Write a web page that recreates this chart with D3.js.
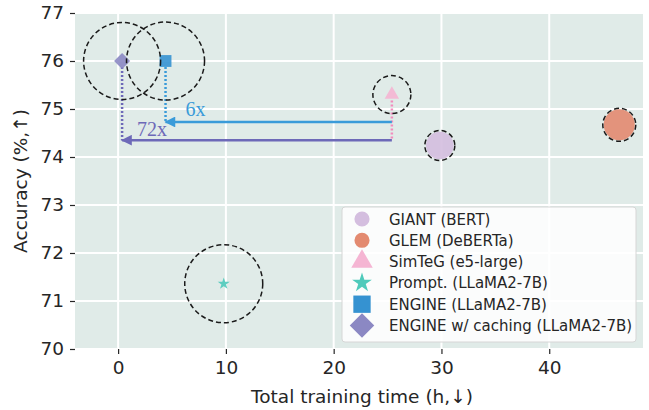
<!DOCTYPE html>
<html>
<head>
<meta charset="utf-8">
<script src="https://cdn.jsdelivr.net/npm/d3@7"></script>
<style>
  body { margin: 0; background: #fff; }
  svg text { font-family: "DejaVu Sans", sans-serif; }
</style>
</head>
<body>
<div id="chart-area"></div>
<script>
// methods, in legend order
var methods = ["GIANT (BERT)", "GLEM (DeBERTa)", "SimTeG (e5-large)", "Prompt. (LLaMA2-7B)", "ENGINE (LLaMA2-7B)", "ENGINE w/ caching (LLaMA2-7B)"];
var trainTime = [29.85, 46.5, 25.4, 9.8, 4.4, 0.37];
var accuracy = [74.24, 74.67, 75.3, 71.36, 76.0, 76.0];

// speedup arrows, from SimTeG to ENGINE variants
var speedFrom = ["SimTeG (e5-large)", "SimTeG (e5-large)"];
var speedTo = ["ENGINE (LLaMA2-7B)", "ENGINE w/ caching (LLaMA2-7B)"];
var speedLevel = [74.73, 74.35];
var speedLabel = ["6x", "72x"];

var xTicks = [0, 10, 20, 30, 40];
var yTicks = [70, 71, 72, 73, 74, 75, 76, 77];

var colors = ["#d4bedf", "#e38a70", "#f5b5d3", "#4fcabb", "#3592d1", "#8b88c3"];
var arrowColors = ["#3a9bd9", "#6d69b8"];
var shapes = ["circle", "circle", "triangle", "star", "square", "diamond"];
var markSize = [600, 760, 90, 45, 140, 130];
var haloR = [15, 16.5, 19, 39, 39, 38.5];

var margin = {top: 13, right: 6, bottom: 61, left: 75},
    width = 649 - margin.left - margin.right,
    height = 410 - margin.top - margin.bottom;

var svg = d3.select("#chart-area")
  .append("svg")
    .attr("width", 649)
    .attr("height", 410)
  .append("g")
    .attr("transform", "translate(" + margin.left + "," + margin.top + ")");

var x = d3.scaleLinear().domain([-4.0, 48.7]).range([0, width]);
var y = d3.scaleLinear().domain([70, 77]).range([height, 0]);

function symbolFor(i) {
  var t = shapes[i];
  var type = t == "triangle" ? d3.symbolTriangle
    : t == "star" ? d3.symbolStar
    : (t == "square" || t == "diamond") ? d3.symbolSquare
    : d3.symbolCircle;
  return d3.symbol().type(type);
}

svg.append("rect")
  .attr("width", width)
  .attr("height", height)
  .attr("fill", "#e0ebe8");

// grid
svg.append("g").selectAll("line.vg")
  .data(xTicks).enter().append("line")
    .attr("x1", function(d) { return x(d); })
    .attr("x2", function(d) { return x(d); })
    .attr("y1", 0).attr("y2", height)
    .attr("stroke", "#fff").attr("stroke-width", 2);
svg.append("g").selectAll("line.hg")
  .data(yTicks).enter().append("line")
    .attr("x1", 0).attr("x2", width)
    .attr("y1", function(d) { return y(d); })
    .attr("y2", function(d) { return y(d); })
    .attr("stroke", "#fff").attr("stroke-width", 2);

// axes
var xAxis = svg.append("g")
  .attr("transform", "translate(0," + height + ")")
  .call(d3.axisBottom(x).tickValues(xTicks).tickFormat(d3.format("d")).tickSize(5).tickPadding(7));
var yAxis = svg.append("g")
  .call(d3.axisLeft(y).tickValues(yTicks).tickFormat(d3.format("d")).tickSize(5).tickPadding(6));
[xAxis, yAxis].forEach(function(a) {
  a.select(".domain").remove();
  a.selectAll(".tick line").attr("stroke", "#262626").attr("stroke-width", 1.2);
  a.selectAll("text").style("font-size", "18.5px").attr("fill", "#262626")
    .style("font-family", "'DejaVu Sans', sans-serif");
});

svg.append("text")
  .attr("x", width / 2 + 3)
  .attr("y", height + 54)
  .attr("text-anchor", "middle")
  .attr("font-size", "18.5px")
  .attr("fill", "#262626")
  .text("Total training time (h,\u2193)");

svg.append("text")
  .attr("transform", "rotate(-90)")
  .attr("x", -height / 2)
  .attr("y", -48)
  .attr("text-anchor", "middle")
  .attr("font-size", "18.5px")
  .attr("fill", "#262626")
  .text("Accuracy (%,\u2191)");

// arrowheads
var defs = svg.append("defs");
arrowColors.forEach(function(c, i) {
  defs.append("marker")
    .attr("id", "head" + i)
    .attr("viewBox", "0 0 10 10")
    .attr("refX", 9).attr("refY", 5)
    .attr("markerWidth", 5.5).attr("markerHeight", 4.5)
    .attr("markerUnits", "strokeWidth")
    .attr("orient", "auto")
    .append("path")
      .attr("d", "M0,0 L10,5 L0,10 Z")
      .attr("fill", c);
});

// dotted drops + arrows
speedTo.forEach(function(name, i) {
  var b = methods.indexOf(name);
  svg.append("line")
    .attr("x1", x(trainTime[b])).attr("x2", x(trainTime[b]))
    .attr("y1", y(accuracy[b]) + 6).attr("y2", y(speedLevel[i]))
    .attr("stroke", arrowColors[i]).attr("stroke-width", 2.5)
    .attr("stroke-dasharray", "2,2");
});
var lowest = d3.min(speedLevel);
var src = methods.indexOf(speedFrom[0]);
svg.append("line")
  .attr("x1", x(trainTime[src])).attr("x2", x(trainTime[src]))
  .attr("y1", y(accuracy[src]) + 6).attr("y2", y(lowest))
  .attr("stroke", "#f28cbd").attr("stroke-width", 2.5)
  .attr("stroke-dasharray", "2,2");

speedTo.forEach(function(name, i) {
  var a = methods.indexOf(speedFrom[i]), b = methods.indexOf(name);
  svg.append("line")
    .attr("x1", x(trainTime[a])).attr("x2", x(trainTime[b]))
    .attr("y1", y(speedLevel[i])).attr("y2", y(speedLevel[i]))
    .attr("stroke", arrowColors[i]).attr("stroke-width", 2.4)
    .attr("marker-end", "url(#head" + i + ")");
  svg.append("text")
    .attr("x", x(trainTime[b]) + (i == 0 ? 20 : 15))
    .attr("y", y(speedLevel[i]) - (i == 0 ? 6 : 4))
    .attr("font-size", "20px")
    .style("font-family", "'Liberation Serif', serif")
    .attr("fill", arrowColors[i])
    .text(speedLabel[i]);
});

// points
methods.forEach(function(m, i) {
  var s = symbolFor(i).size(markSize[i]);
  svg.append("path")
    .attr("d", s())
    .attr("transform", "translate(" + x(trainTime[i]) + "," + y(accuracy[i]) + ")" + (shapes[i] == "diamond" ? " rotate(45)" : ""))
    .attr("fill", colors[i])
    .attr("fill-opacity", 0.9);
});

// dashed halos
svg.append("g").selectAll("circle")
  .data(methods).enter().append("circle")
    .attr("cx", function(d, i) { return x(trainTime[i]); })
    .attr("cy", function(d, i) { return y(accuracy[i]); })
    .attr("r", function(d, i) { return haloR[i]; })
    .attr("fill", "none")
    .attr("stroke", "#1a1a1a")
    .attr("stroke-width", 1.5)
    .attr("stroke-dasharray", "5,3");

// legend
var lg = svg.append("g").attr("transform", "translate(" + (342 - margin.left) + "," + (207 - margin.top) + ")");
lg.append("rect")
  .attr("width", 294).attr("height", 135)
  .attr("rx", 3)
  .attr("fill", "#fff").attr("fill-opacity", 0.85)
  .attr("stroke", "#d6d6d6");
var legSize = [180, 180, 200, 120, 300, 300];
methods.forEach(function(m, i) {
  var row = lg.append("g").attr("transform", "translate(0," + (12 + i * 21.3) + ")");
  var s = symbolFor(i).size(legSize[i]);
  row.append("path")
    .attr("d", s())
    .attr("transform", "translate(20,0)" + (shapes[i] == "diamond" ? " rotate(45)" : ""))
    .attr("fill", colors[i]);
  row.append("text")
    .attr("x", 47)
    .attr("y", 5.5)
    .attr("font-size", "15px")
    .attr("fill", "#262626")
    .text(m);
});
</script>
</body>
</html>
